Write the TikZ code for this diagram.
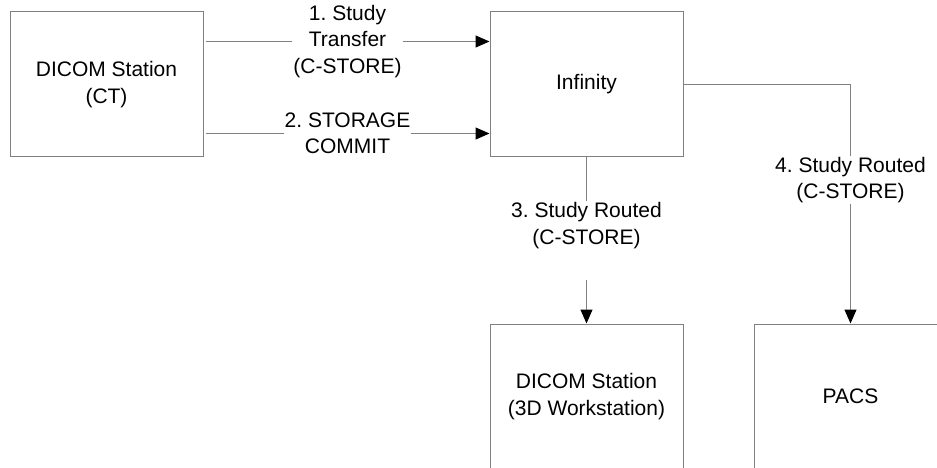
\documentclass[tikz,border=0pt]{standalone}
\usepackage{fontspec}
\setmainfont{Liberation Sans}
\usetikzlibrary{arrows.meta}
\definecolor{linegray}{HTML}{808080}
\frenchspacing
\begin{document}
\begin{tikzpicture}[x=1pt,y=-1pt,
  font=\fontsize{21}{26.5}\selectfont\frenchspacing,
  box/.style={draw=linegray,line width=1pt,rectangle,minimum width=193pt,minimum height=145pt,inner sep=0pt,align=center,text=black},
  conn/.style={draw=linegray,line width=1pt,-{Triangle[length=14pt,width=12pt,color=black,fill=black]}},
  lbl/.style={fill=white,inner sep=1pt,align=center,text=black}]
\useasboundingbox (0,0) rectangle (937,468);
\clip (0,0) rectangle (937,468);
\fill[white] (0,0) rectangle (937,468);
\node[box] (ct) at (106.5,84.5) {DICOM Station\\(CT)};
\node[box] (inf) at (586.5,84.5) {Infinity};
\node[box] (ws) at (586.5,396.5) {DICOM Station\\(3D Workstation)};
\node[box] (pacs) at (850.5,396.5) {PACS};
\draw[conn] ([xshift=2pt,yshift=-30pt]ct.north east) -- node[lbl] (l1) {1. Study\\Transfer\\(C-STORE)} ([yshift=-30pt]inf.north west);
\draw[conn] ([xshift=2pt,yshift=24pt]ct.south east) -- node[lbl] (l2) {2. STORAGE\\COMMIT} ([yshift=24pt]inf.south west);
\draw[conn] (inf.south) -- node[lbl] (l3) {3. Study Routed\\(C-STORE)\\\strut} (ws.north);
\draw[conn] (inf.east) -| node[lbl,pos=0.70] (l4) {4. Study Routed\\(C-STORE)} (pacs.north);
\end{tikzpicture}
\end{document}
